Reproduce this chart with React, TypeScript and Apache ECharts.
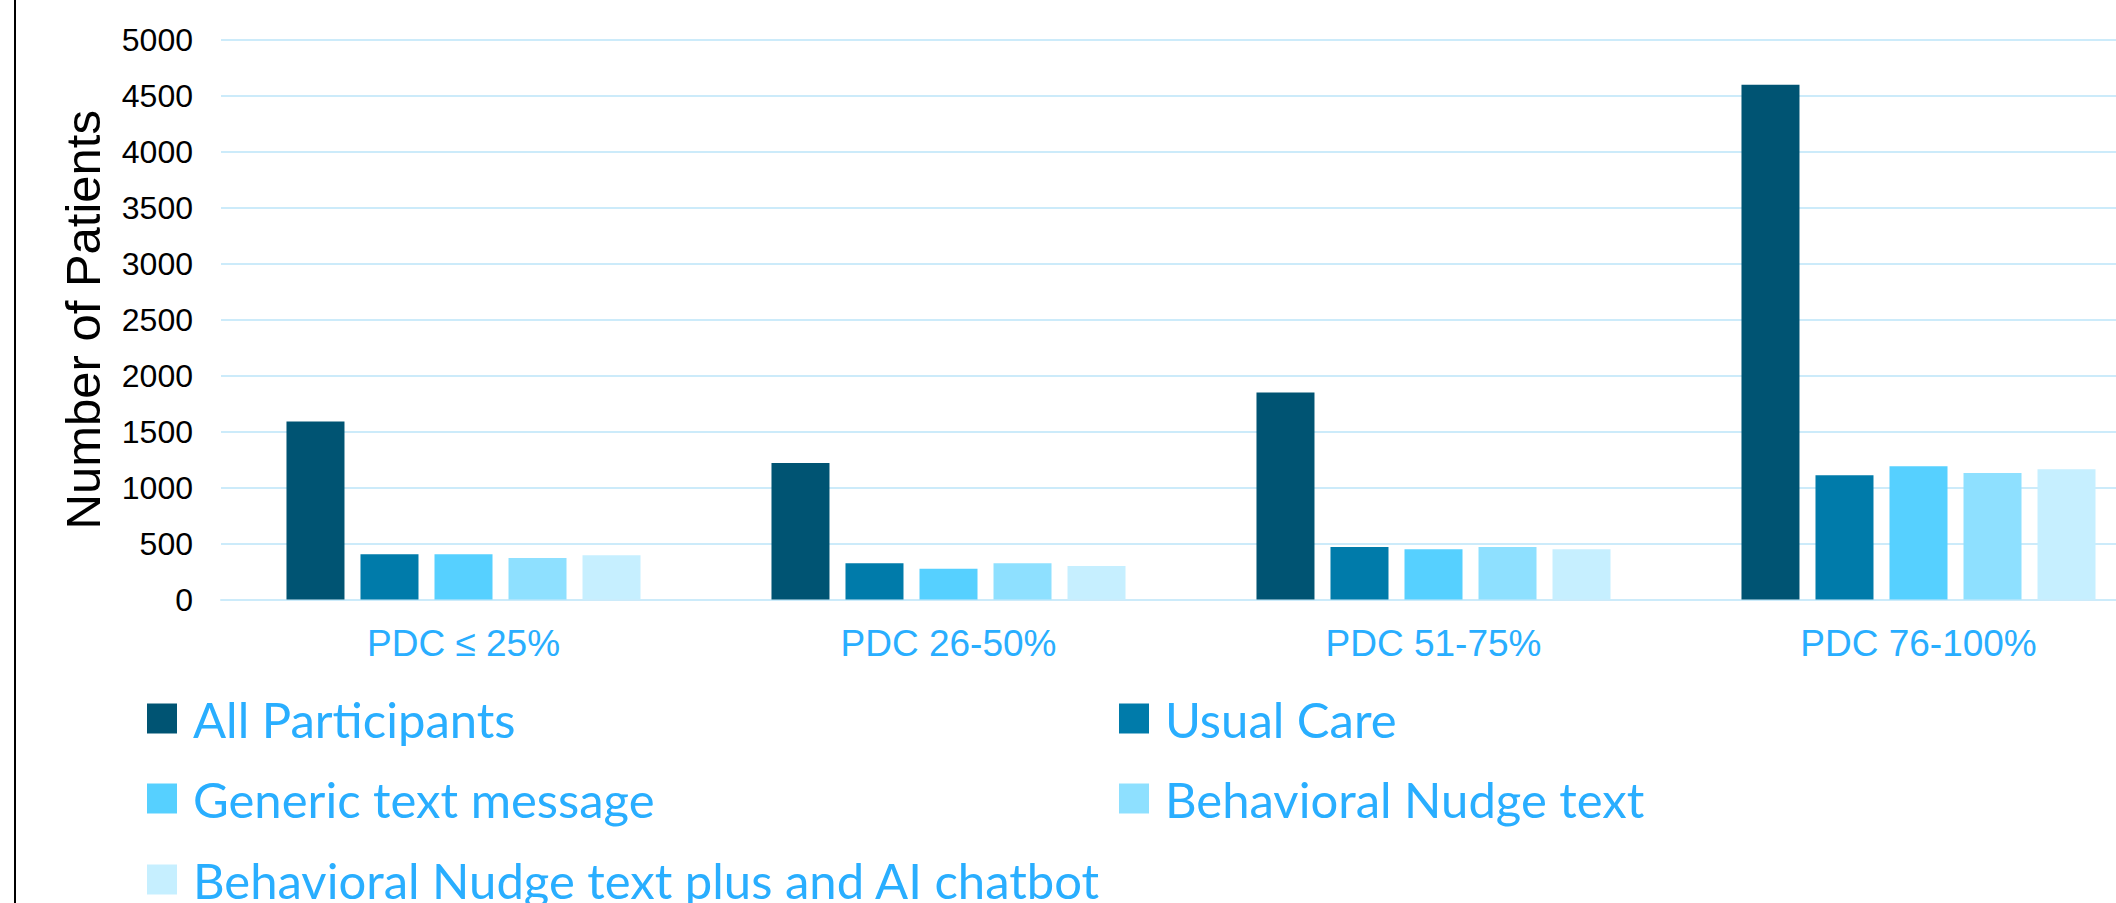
import React, { useEffect, useRef } from "react";
import * as echarts from "echarts";

const categories = ["PDC ≤ 25%", "PDC 26-50%", "PDC 51-75%", "PDC 76-100%"];
const seriesNames = [
  "All Participants",
  "Usual Care",
  "Generic text message",
  "Behavioral Nudge text",
  "Behavioral Nudge text plus and AI chatbot",
];
const allParticipants = [1590, 1220, 1850, 4600];
const usualCare = [405, 325, 470, 1110];
const genericText = [405, 275, 450, 1190];
const nudgeText = [370, 325, 470, 1130];
const nudgeChatbot = [395, 300, 450, 1165];
const seriesColors = ["#005473", "#007BAA", "#56D0FF", "#8EE0FF", "#C6EFFF"];
const yTicks = { min: 0, max: 5000, interval: 500 };

const seriesValues = [allParticipants, usualCare, genericText, nudgeText, nudgeChatbot];

// legend slots: [left, top]
const legendSlots: [number, number][] = [
  [147, 694],
  [1119, 694],
  [147, 774],
  [1119, 774],
  [147, 855],
];

export default function App() {
  const ref = useRef<HTMLDivElement>(null);
  useEffect(() => {
    if (!ref.current) return;
    const chart = echarts.init(ref.current, undefined, { renderer: "svg" });
    const labelBlue = "#29AEFF";
    const option: any = {
      animation: false,
      backgroundColor: "#ffffff",
      grid: {
        left: 221,
        top: 40,
        width: 1940,
        height: 559.5,
        outerBoundsMode: "none",
        containLabel: false,
      },
      xAxis: {
        type: "category",
        data: categories,
        axisLine: { show: true, lineStyle: { color: "#CCEBFA", width: 2 } },
        axisTick: { show: false },
        axisLabel: {
          color: labelBlue,
          fontSize: 37,
          fontFamily: "Liberation Sans, Arial, sans-serif",
          margin: 25,
        },
      },
      yAxis: {
        type: "value",
        min: yTicks.min,
        max: yTicks.max,
        interval: yTicks.interval,
        name: "Number of Patients",
        nameLocation: "middle",
        nameGap: 114,
        nameTextStyle: {
          color: "#000",
          fontSize: 49,
          fontFamily: "Liberation Sans, Arial, sans-serif",
        },
        axisLine: { show: false },
        axisTick: { show: false },
        axisLabel: {
          color: "#000",
          fontSize: 32,
          fontFamily: "Liberation Sans, Arial, sans-serif",
          margin: 28,
          formatter: (v: number) => String(v),
        },
        splitLine: { lineStyle: { color: "#CCEBFA", width: 2 } },
      },
      legend: seriesNames.map((n, i) => ({
        data: [n],
        left: legendSlots[i][0],
        top: legendSlots[i][1],
        padding: 0,
        itemWidth: 30,
        itemHeight: 30,
        icon: "rect",
        selectedMode: false,
        textStyle: {
          color: labelBlue,
          fontSize: 49,
          fontFamily: "Lato, sans-serif",
          padding: [0, 0, 0, 11],
        },
      })),
      graphic: [
        {
          type: "line",
          shape: { x1: 15, y1: 0, x2: 15, y2: 903 },
          style: { stroke: "#000", lineWidth: 2 },
        },
      ],
      series: seriesNames.map((n, i) => ({
        name: n,
        type: "bar",
        data: seriesValues[i],
        barWidth: 58,
        barGap: "27.6%",
        itemStyle: { color: seriesColors[i] },
      })),
    };
    chart.setOption(option);
    return () => chart.dispose();
  }, []);
  return (
    <div
      ref={ref}
      style={{ position: "absolute", left: 0, top: 0, width: 2116, height: 903 }}
    />
  );
}
